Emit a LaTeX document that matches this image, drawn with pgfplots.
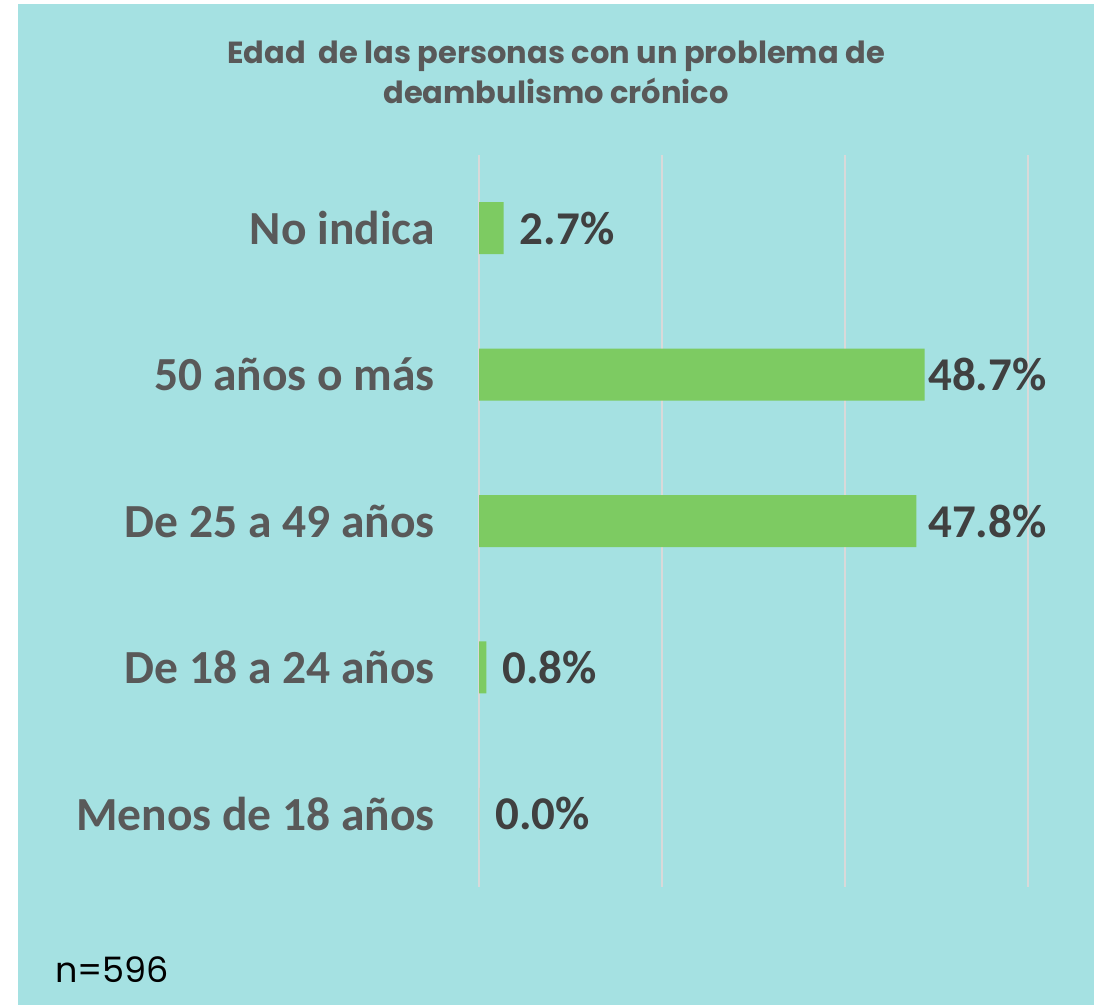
\documentclass[border=0pt]{standalone}
\usepackage{pgfplots}
\usepackage{pgfplotstable}
\pgfplotsset{compat=1.18}
\usepackage{fontspec}
\setmainfont{Carlito}
\newfontfamily\titlefont{Poppins}
\definecolor{bgteal}{HTML}{A5E1E2}
\definecolor{bargreen}{HTML}{7DCB62}
\definecolor{gridgray}{HTML}{D9D9D9}
\definecolor{labgray}{HTML}{595959}
\definecolor{valgray}{HTML}{404040}
\pgfplotstableread{
y x dx
0 0.0 0
1 0.8 0
2 47.8 -4.4
3 48.7 -12.6
4 2.7 0
}\datatab
\begin{document}
\begin{tikzpicture}[x=1pt,y=1pt]
\path[use as bounding box] (0,0) rectangle (1099,1005);
\fill[white] (0,0) rectangle (1099,1005);
\fill[bgteal] (18,0) rectangle (1094,1001);
\node[text=labgray, font=\titlefont\bfseries\fontsize{30.5}{40}\selectfont, align=center] at (556,933) {Edad\ \ de las personas con un problema de\\deambulismo crónico};
\node[anchor=base west, inner sep=0pt, font=\titlefont\fontsize{35}{42}\selectfont, text=black] at (55,23) {n=596};
\begin{axis}[
  at={(479pt,118pt)}, anchor=south west,
  scale only axis, width=549pt, height=732pt,
  xmin=0, xmax=60, ymin=-0.5, ymax=4.5,
  xbar, bar width=52pt,
  xtick={0,20,40,60}, xticklabels={},
  ytick={0,1,2,3,4},
  yticklabels={Menos de 18 años, De 18 a 24 años, De 25 a 49 años, 50 años o más, No indica},
  yticklabel style={font=\bfseries\fontsize{47.5}{56}\selectfont, text=labgray, anchor=east, inner sep=0pt, xshift=-44pt},
  xmajorgrids, grid style={color=gridgray, line width=2pt},
  axis line style={draw=none}, major tick length=0pt,
  clip=false,
  /pgf/number format/assume math mode=true,
  nodes near coords={\pgfmathprintnumber[fixed, fixed zerofill, precision=1, assume math mode=true]{\pgfplotspointmeta}\%},
  point meta=explicit,
  visualization depends on={\thisrow{dx} \as \dx},
  every node near coord/.append style={font=\bfseries\fontsize{47}{56}\selectfont, text=valgray, anchor=west, inner sep=0pt, xshift=16pt+\dx pt},
]
\addplot[fill=bargreen, draw=none] table[x=x, y=y, meta=x] {\datatab};
\end{axis}
\end{tikzpicture}
\end{document}
